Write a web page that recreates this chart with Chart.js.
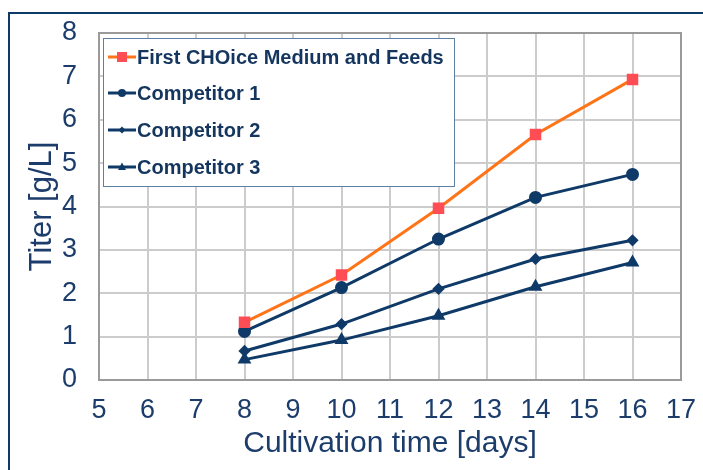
<!DOCTYPE html>
<html>
<head>
<meta charset="utf-8">
<script src="https://cdn.jsdelivr.net/npm/chart.js@4"></script>
<style>
  html, body { margin: 0; padding: 0; background: #ffffff; }
  #wrap { position: relative; width: 703px; height: 470px; overflow: hidden; }
  #frame { position: absolute; left: 8px; top: 12px; width: 720px; height: 480px;
           border-left: 2px solid #0e3a6a; border-top: 2px solid #0e3a6a; }
  #chartBox { position: absolute; left: 0; top: 0; width: 703px; height: 470px; }
</style>
</head>
<body>
<div id="wrap">
  <div id="frame"></div>
  <div id="chartBox"><canvas id="titerChart"></canvas></div>
</div>
<script>
const days = [8, 10, 12, 14, 16];
const firstChoice = [1.33, 2.42, 3.96, 5.66, 6.93];
const competitor1 = [1.12, 2.13, 3.25, 4.21, 4.74];
const competitor2 = [0.67, 1.29, 2.10, 2.79, 3.22];
const competitor3 = [0.47, 0.92, 1.48, 2.15, 2.71];
const seriesNames = ['First CHOice Medium and Feeds', 'Competitor 1', 'Competitor 2', 'Competitor 3'];

const navy = '#0f3a68';
const textColor = '#1c3d6b';
const fontFamily = "'Liberation Sans', Arial, sans-serif";
const tickFamily = "'Liberation Sans Narrow', 'Arial Narrow', 'Liberation Sans', sans-serif";

function toPoints(values) {
  return days.map((d, i) => ({ x: d, y: values[i] }));
}

function drawMarker(ctx, style, x, y, r, color) {
  ctx.save();
  ctx.fillStyle = color;
  ctx.beginPath();
  if (style === 'rect') {
    ctx.rect(x - r, y - r, 2 * r, 2 * r);
  } else if (style === 'circle') {
    ctx.arc(x, y, r, 0, Math.PI * 2);
  } else if (style === 'rectRot') {
    ctx.moveTo(x, y - r); ctx.lineTo(x + r, y); ctx.lineTo(x, y + r); ctx.lineTo(x - r, y);
    ctx.closePath();
  } else if (style === 'triangle') {
    ctx.moveTo(x, y - r * 1.1); ctx.lineTo(x + r, y + r * 0.75); ctx.lineTo(x - r, y + r * 0.75);
    ctx.closePath();
  }
  ctx.fill();
  ctx.restore();
}

// grey frame around the plot area
const plotFrame = {
  id: 'plotFrame',
  beforeDatasetsDraw(chart) {
    const { ctx, chartArea: a } = chart;
    ctx.save();
    ctx.strokeStyle = '#9a9a9a';
    ctx.lineWidth = 2;
    ctx.strokeRect(a.left, a.top, a.right - a.left, a.bottom - a.top);
    ctx.restore();
  }
};

// boxed legend in the top-left corner
const boxLegend = {
  id: 'boxLegend',
  afterDraw(chart) {
    const ctx = chart.ctx;
    const bx = 103, by = 38, bw = 351, bh = 148;
    ctx.save();
    ctx.fillStyle = '#ffffff';
    ctx.fillRect(bx, by, bw, bh);
    ctx.strokeStyle = '#5d7fa6';
    ctx.lineWidth = 1;
    ctx.strokeRect(bx + 0.5, by + 0.5, bw, bh);
    const rows = [57, 93, 130, 167];
    chart.data.datasets.forEach((ds, i) => {
      const y = rows[i];
      ctx.strokeStyle = ds.borderColor;
      ctx.lineWidth = 3;
      ctx.beginPath();
      ctx.moveTo(108, y);
      ctx.lineTo(136, y);
      ctx.stroke();
      drawMarker(ctx, ds.pointStyle, 122, y, ds.legendRadius, ds.pointBackgroundColor);
      ctx.fillStyle = '#14365e';
      ctx.font = 'bold 20px ' + fontFamily;
      ctx.textBaseline = 'middle';
      ctx.textAlign = 'left';
      ctx.fillText(ds.label, 137, y + 1);
    });
    ctx.restore();
  }
};

const ctx = document.getElementById('titerChart').getContext('2d');
new Chart(ctx, {
  type: 'line',
  data: {
    datasets: [
      {
        label: seriesNames[0],
        data: toPoints(firstChoice),
        borderColor: '#ff7418',
        pointBackgroundColor: '#ff4d55',
        pointBorderColor: '#ff4d55',
        pointStyle: 'rect',
        pointRadius: 6,
        legendRadius: 5,
        borderWidth: 3
      },
      {
        label: seriesNames[1],
        data: toPoints(competitor1),
        borderColor: navy,
        pointBackgroundColor: navy,
        pointBorderColor: navy,
        pointStyle: 'circle',
        pointRadius: 5,
        legendRadius: 4,
        borderWidth: 3
      },
      {
        label: seriesNames[2],
        data: toPoints(competitor2),
        borderColor: navy,
        pointBackgroundColor: navy,
        pointBorderColor: navy,
        pointStyle: 'rectRot',
        pointRadius: 4,
        legendRadius: 3.5,
        borderWidth: 3
      },
      {
        label: seriesNames[3],
        data: toPoints(competitor3),
        borderColor: navy,
        pointBackgroundColor: navy,
        pointBorderColor: navy,
        pointStyle: 'triangle',
        pointRadius: 5,
        legendRadius: 4,
        borderWidth: 3
      }
    ]
  },
  options: {
    responsive: true,
    maintainAspectRatio: false,
    animation: false,
    layout: { padding: { left: 24, top: 33, right: 22, bottom: 0 } },
    plugins: {
      legend: { display: false },
      tooltip: { enabled: false }
    },
    scales: {
      x: {
        type: 'linear',
        min: 5,
        max: 17,
        ticks: {
          stepSize: 1,
          color: textColor,
          padding: 14,
          font: { family: tickFamily, size: 27 }
        },
        grid: { color: '#cccccc', lineWidth: 2, drawTicks: false },
        border: { display: false },
        title: {
          display: true,
          text: 'Cultivation time [days]',
          color: textColor,
          padding: { top: 0, bottom: 8 },
          font: { family: fontFamily, size: 30 }
        },
        afterFit(scale) {
          scale.height = 90;
          scale.paddingLeft = 0;
          scale.paddingRight = 0;
        }
      },
      y: {
        min: 0,
        max: 8,
        ticks: {
          stepSize: 1,
          color: textColor,
          padding: 22,
          font: { family: tickFamily, size: 27 }
        },
        grid: { color: '#cccccc', lineWidth: 2, drawTicks: false },
        border: { display: false },
        title: {
          display: true,
          text: 'Titer [g/L]',
          color: textColor,
          padding: { top: 0, bottom: 0 },
          font: { family: fontFamily, size: 31 }
        },
        afterFit(scale) {
          scale.width = 75;
          scale.paddingTop = 0;
          scale.paddingBottom = 0;
        }
      }
    }
  },
  plugins: [plotFrame, boxLegend]
});
</script>
</body>
</html>
